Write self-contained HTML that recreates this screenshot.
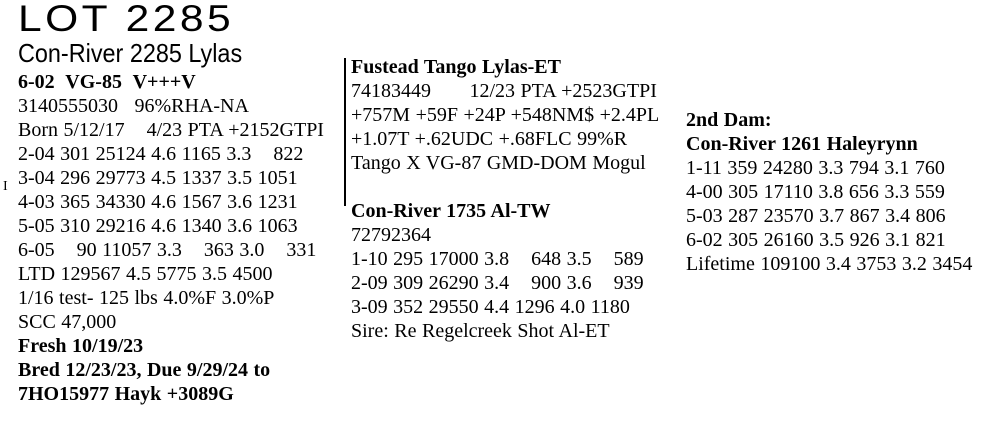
<!DOCTYPE html>
<html><head><meta charset="utf-8"><style>
body{margin:0;width:981px;height:421px;background:#fff;position:relative;overflow:hidden;font-family:"Liberation Serif",serif;font-size:20px;color:#000}
.l{position:absolute;white-space:pre;line-height:24px;word-spacing:0.5px}
b{font-weight:bold}
.t{position:absolute;font-family:"Liberation Sans",sans-serif;white-space:pre}
</style></head><body>
<div class="t" style="left:18px;top:-2px;font-size:37px;letter-spacing:3px;transform:scaleX(1.15);transform-origin:left">LOT 2285</div>
<div class="t" style="left:18px;top:38px;font-size:26px;transform:scaleX(0.9);transform-origin:left">Con-River 2285 Lylas</div>
<div class="l" style="left:18px;top:70px"><b>6-02  VG-85  V+++V</b>
3140555030   96%RHA-NA
Born 5/12/17    4/23 PTA +2152GTPI
2-04 301 25124 4.6 1165 3.3    822
3-04 296 29773 4.5 1337 3.5 1051
4-03 365 34330 4.6 1567 3.6 1231
5-05 310 29216 4.6 1340 3.6 1063
6-05    90 11057 3.3    363 3.0    331
LTD 129567 4.5 5775 3.5 4500
1/16 test- 125 lbs 4.0%F 3.0%P
SCC 47,000
<b>Fresh 10/19/23</b>
<b>Bred 12/23/23, Due 9/29/24 to</b>
<b>7HO15977 Hayk +3089G</b></div>
<div style="position:absolute;left:344px;top:58px;width:2px;height:148px;background:#000"></div>
<div class="l" style="left:351px;top:55px"><b>Fustead Tango Lylas-ET</b>
74183449       12/23 PTA +2523GTPI
+757M +59F +24P +548NM$ +2.4PL
+1.07T +.62UDC +.68FLC 99%R
Tango X VG-87 GMD-DOM Mogul

<b>Con-River 1735 Al-TW</b>
72792364
1-10 295 17000 3.8    648 3.5    589
2-09 309 26290 3.4    900 3.6    939
3-09 352 29550 4.4 1296 4.0 1180
Sire: Re Regelcreek Shot Al-ET</div>
<div class="l" style="left:686px;top:108px"><b>2nd Dam:</b>
<b>Con-River 1261 Haleyrynn</b>
1-11 359 24280 3.3 794 3.1 760
4-00 305 17110 3.8 656 3.3 559
5-03 287 23570 3.7 867 3.4 806
6-02 305 26160 3.5 926 3.1 821
Lifetime 109100 3.4 3753 3.2 3454</div>
<div class="l" style="left:3px;top:175px;font-size:14px">I</div>
</body></html>
